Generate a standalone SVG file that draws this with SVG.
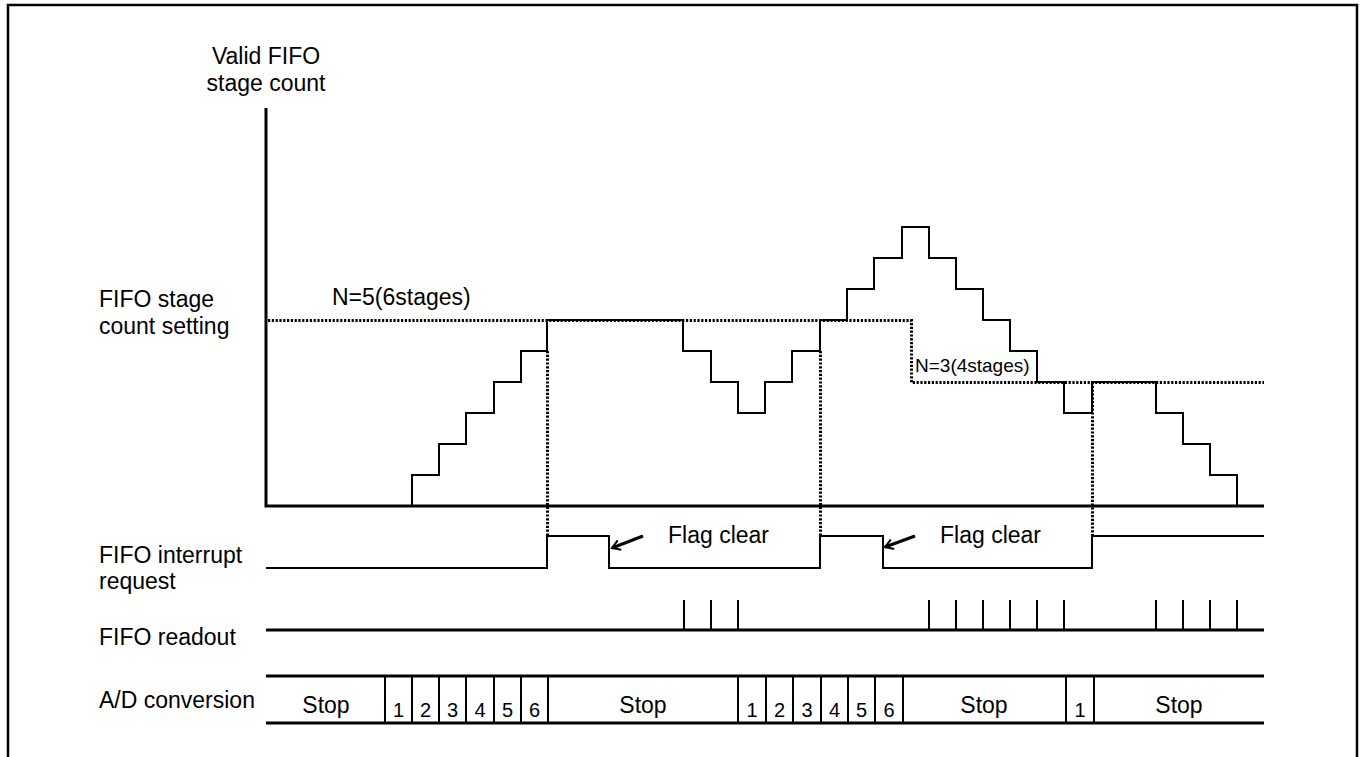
<svg xmlns="http://www.w3.org/2000/svg" width="1365" height="757" viewBox="0 0 1365 757">
<style>
text{font-family:"Liberation Sans",Arial,sans-serif;fill:#000}
.lbl{font-size:23px}
.sm{font-size:19px}
.dig{font-size:20px;text-anchor:middle}
.stop{font-size:23px;text-anchor:middle}
.solid{fill:none;stroke:#000;stroke-width:2}
.thick{fill:none;stroke:#000;stroke-width:3}
.dot{fill:none;stroke:#000;stroke-width:3;stroke-dasharray:2.2 1.6}
</style>
<defs>
<marker id="vhead" markerWidth="12" markerHeight="12" refX="10" refY="6" orient="auto" markerUnits="userSpaceOnUse">
<path d="M2,1 L10,6 L2,11" fill="none" stroke="#000" stroke-width="2"/>
</marker>
</defs>
<rect x="8" y="5" width="1349" height="800" fill="#fff" stroke="#000" stroke-width="2.5"/>

<g id="labels">
<text class="lbl" x="266" y="64" text-anchor="middle">Valid FIFO</text>
<text class="lbl" x="266" y="91" text-anchor="middle">stage count</text>
<text class="lbl" x="99" y="307">FIFO stage</text>
<text class="lbl" x="99" y="334">count setting</text>
<text class="lbl" x="99" y="563">FIFO interrupt</text>
<text class="lbl" x="99" y="589">request</text>
<text class="lbl" x="99" y="645">FIFO readout</text>
<text class="lbl" x="99" y="708">A/D conversion</text>
</g>

<g id="axes">
<path class="thick" d="M266,108 V506 H1264"/>
</g>

<g id="setting">
<path class="dot" d="M268,320.5 H911.5 V382.5 H1264"/>
<text class="lbl" x="332" y="305">N=5(6stages)</text>
<text class="sm" x="915" y="372">N=3(4stages)</text>
</g>

<g id="connectors">
<path class="dot" d="M547.5,351 V536"/>
<path class="dot" d="M820.5,351 V536"/>
<path class="dot" d="M1092.5,382 V536"/>
<line x1="643" y1="536" x2="612" y2="548" stroke="#000" stroke-width="3" marker-end="url(#vhead)"/>
<line x1="915" y1="536" x2="885" y2="547" stroke="#000" stroke-width="3" marker-end="url(#vhead)"/>
</g>

<g id="count">
<path class="solid" d="M412,506 V475 H439 V444 H466 V413 H494 V382 H521 V351 H547 V320 H683 V351 H711 V382 H738 V413 H765 V382 H792 V351 H820 V320 H847 V289 H874 V258 H902 V227 H929 V258 H956 V289 H983 V320 H1010 V351 H1037 V382 H1064 V413 H1092 V382 H1156 V413 H1183 V444 H1210 V475 H1237 V506"/>
</g>

<g id="interrupt">
<path class="solid" d="M266,568 H547 V536 H609 V568 H820 V536 H883 V568 H1092 V536 H1264"/>
<text class="lbl" x="668" y="543">Flag clear</text>
<text class="lbl" x="940" y="543">Flag clear</text>
</g>

<g id="readout">
<path class="thick" d="M266,630 H1264" stroke-width="2.5"/>
<path class="solid" d="M684,630 V600 M711,630 V600 M738,630 V600 M929,630 V600 M956,630 V600 M983,630 V600 M1010,630 V600 M1037,630 V600 M1064,630 V600 M1156,630 V600 M1183,630 V600 M1210,630 V600 M1237,630 V600"/>
</g>

<g id="adconv">
<path class="thick" stroke-width="2.5" d="M266,676 H1264 M266,723 H1264"/>
<path class="solid" d="M385,676 V723 M412,676 V723 M439,676 V723 M466,676 V723 M494,676 V723 M521,676 V723 M548,676 V723 M738,676 V723 M766,676 V723 M793,676 V723 M821,676 V723 M848,676 V723 M875,676 V723 M903,676 V723 M1066,676 V723 M1094,676 V723"/>
<text class="stop" x="326" y="713">Stop</text>
<text class="dig" x="398.5" y="717">1</text>
<text class="dig" x="425.5" y="717">2</text>
<text class="dig" x="452.5" y="717">3</text>
<text class="dig" x="480" y="717">4</text>
<text class="dig" x="507.5" y="717">5</text>
<text class="dig" x="534.5" y="717">6</text>
<text class="stop" x="643" y="713">Stop</text>
<text class="dig" x="752" y="717">1</text>
<text class="dig" x="779.5" y="717">2</text>
<text class="dig" x="807" y="717">3</text>
<text class="dig" x="834.5" y="717">4</text>
<text class="dig" x="861.5" y="717">5</text>
<text class="dig" x="889" y="717">6</text>
<text class="stop" x="984" y="713">Stop</text>
<text class="dig" x="1080" y="717">1</text>
<text class="stop" x="1179" y="713">Stop</text>
</g>
</svg>
